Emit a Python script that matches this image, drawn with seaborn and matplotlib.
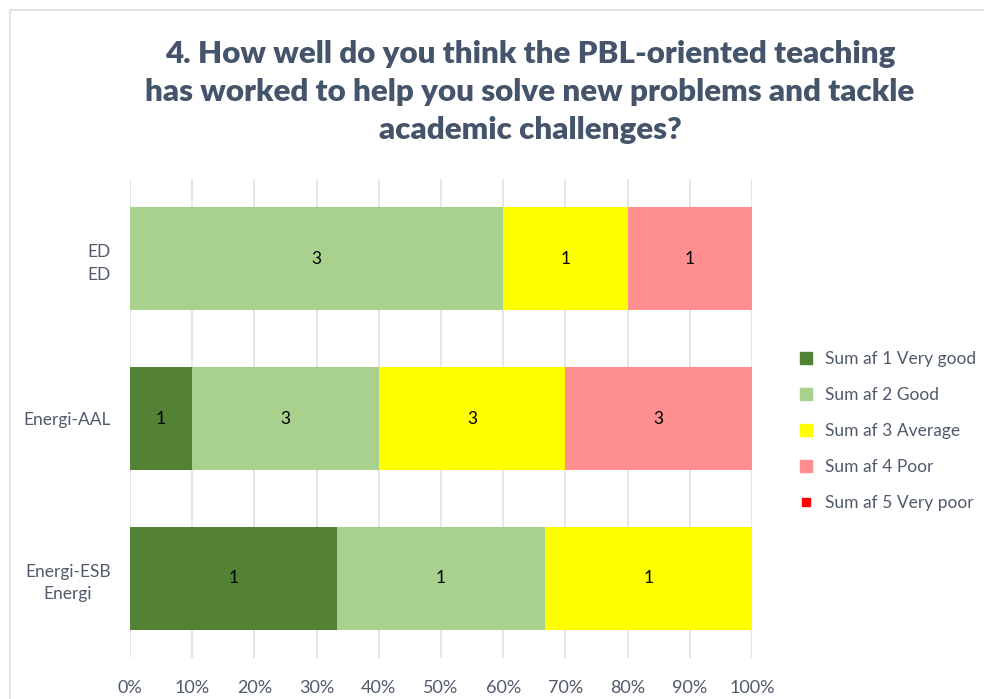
import numpy as np
import pandas as pd
import seaborn as sns
import matplotlib.pyplot as plt
import matplotlib.ticker as ticker
from matplotlib.lines import Line2D
from matplotlib.patches import Rectangle

# data (counts per rating)
groups = ["ED\nED", "Energi-AAL", "Energi-ESB\nEnergi"]
ratings = ["Sum af 1 Very good", "Sum af 2 Good", "Sum af 3 Average",
           "Sum af 4 Poor", "Sum af 5 Very poor"]
very_good = [0, 1, 1]
good = [3, 3, 1]
average = [1, 3, 1]
poor = [1, 3, 0]
very_poor = [0, 0, 0]
colors = ["#548235", "#A9D18E", "#FFFF00", "#FF8F8F", "#FF0000"]

sns.set_style("white")
plt.rcParams['font.family'] = ['Lato', 'DejaVu Sans']

counts = np.array([very_good, good, average, poor, very_poor], dtype=float)
share = counts / counts.sum(axis=0) * 100
cum = np.cumsum(share, axis=0)

fig = plt.figure(figsize=(9.84, 6.99), dpi=100)
ax = fig.add_axes([130 / 984, 1 - 658 / 699, 622 / 984, 479 / 699])

# layered bars, largest cumulative first
for i in range(len(ratings) - 1, -1, -1):
    df = pd.DataFrame({"group": groups, "value": cum[i]})
    sns.barplot(data=df, x="value", y="group", orient="h", color=colors[i],
                width=0.645, saturation=1, ax=ax, zorder=2, edgecolor="none")

# data labels
for i in range(len(ratings)):
    for j in range(len(groups)):
        if counts[i, j] > 0:
            mid = cum[i, j] - share[i, j] / 2
            ax.text(mid, j, "%d" % counts[i, j], ha="center", va="center",
                    fontsize=12.5, color="black", zorder=3)

ax.set_xlim(0, 100)
ax.set_ylim(2.5, -0.5)
ax.xaxis.set_major_locator(ticker.MultipleLocator(10))
ax.xaxis.set_major_formatter(ticker.FuncFormatter(lambda v, p: "%d%%" % v))
ax.grid(axis="x", color="#DDE2EA", linewidth=1.2, zorder=0)
ax.set_axisbelow(True)
for s in ax.spines.values():
    s.set_visible(False)
ax.set_xlabel("")
ax.set_ylabel("")
ax.tick_params(axis="x", length=0, pad=16, labelsize=13, labelcolor="#505A6B")
ax.tick_params(axis="y", length=0, pad=14, labelsize=12.5, labelcolor="#505A6B")
for lab in ax.get_yticklabels():
    lab.set_multialignment("center")
    lab.set_linespacing(1.5)

# legend
handles = []
for i, r in enumerate(ratings):
    ms = 8 if i < 4 else 6
    handles.append(Line2D([], [], marker="s", linestyle="none", markersize=ms,
                          markerfacecolor=colors[i], markeredgecolor=colors[i], label=r))
leg = fig.legend(handles=handles, loc="center left", bbox_to_anchor=(782 / 984, 1 - 431 / 699),
                 frameon=False, fontsize=12.5, labelspacing=1.15, handletextpad=0.55,
                 handlelength=1.0)
for t in leg.get_texts():
    t.set_color("#505A6B")

fig.text(530 / 984, 1 - 92 / 699,
         "4. How well do you think the PBL-oriented teaching\n"
         "has worked to help you solve new problems and tackle\n"
         "academic challenges?",
         ha="center", va="center", fontsize=22.5, fontweight="heavy",
         color="#44546A", linespacing=1.45)

# chart border
fig.patches.append(Rectangle((10 / 984, -0.1), 1.1, 1 - 10 / 699 + 0.1,
                             transform=fig.transFigure, fill=False,
                             edgecolor="#D9DEE6", linewidth=1.2))

fig.savefig("out.png", dpi=100)
